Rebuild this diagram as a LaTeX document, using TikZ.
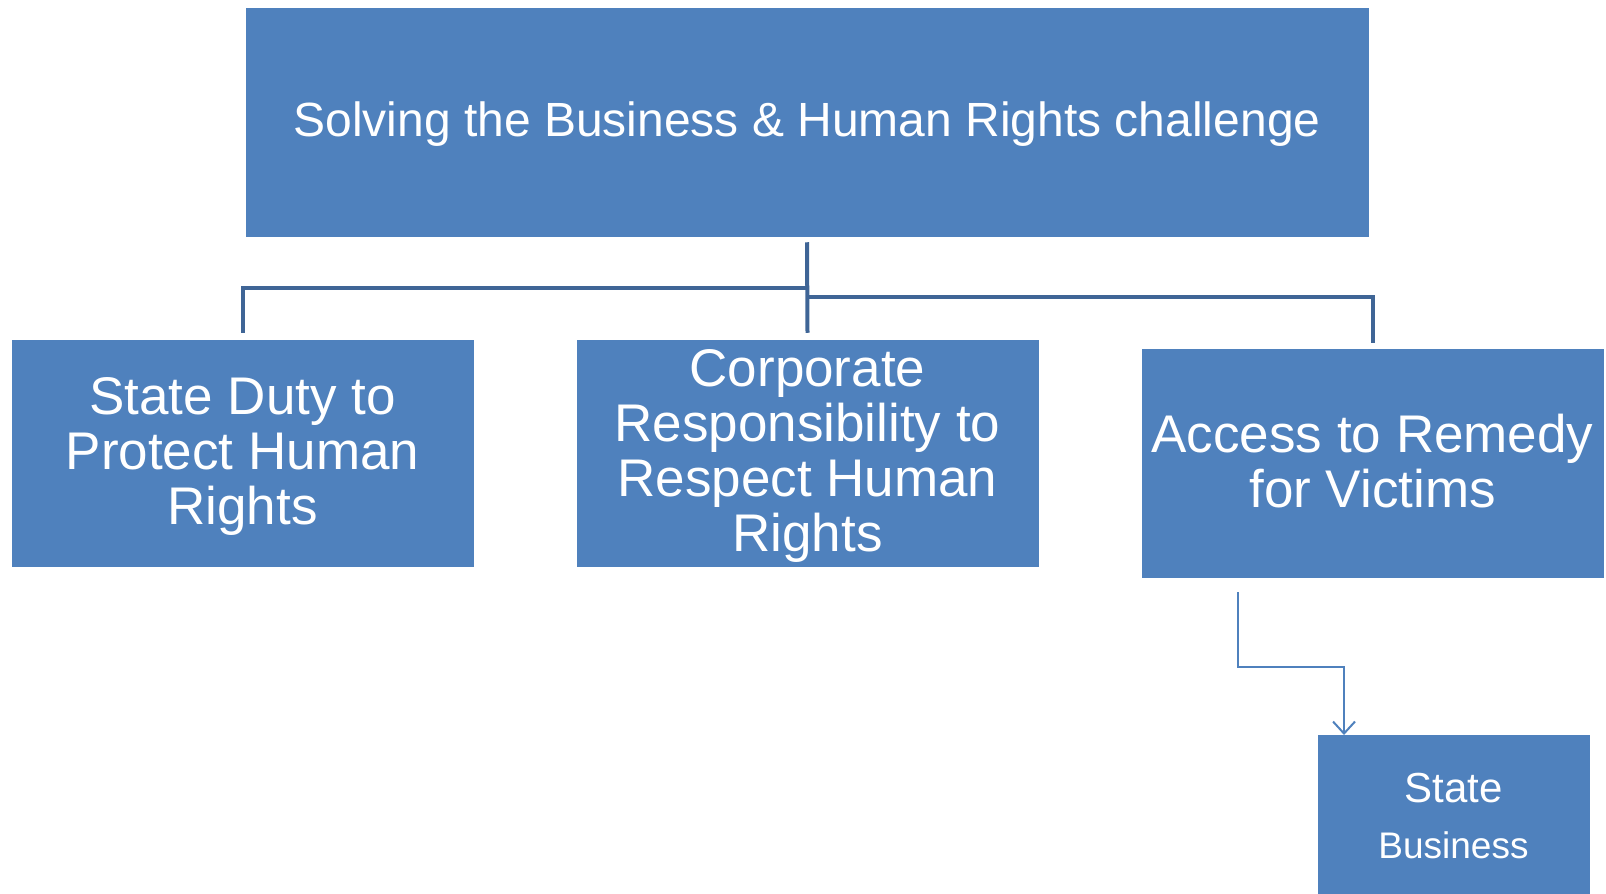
\documentclass[tikz,border=0pt]{standalone}
\usepackage{fontspec}
\setmainfont{Liberation Sans}
\usetikzlibrary{arrows.meta}
\definecolor{boxblue}{HTML}{4F81BD}
\definecolor{linkblue}{HTML}{3F6596}
\begin{document}
\begin{tikzpicture}[x=1pt,y=-1pt,
  blockbox/.style={rectangle, fill=boxblue, draw=boxblue, line width=0.5pt, inner sep=0pt},
  blocktext/.style={text=white, align=center, inner sep=0pt},
  pillartext/.style={blocktext, font=\fontsize{53}{55}\selectfont},
  trunk/.style={draw=linkblue, line width=4pt},
  feed/.style={draw=boxblue, line width=2pt,
    -{Straight Barb[length=12pt,width=22pt,line width=2pt]}},
  labeltext/.style={text=white, inner sep=0pt, anchor=base}]
\clip (0,0) rectangle (1606,894);

% headline box
\node[blockbox, minimum width=1122pt, minimum height=228pt] (top) at (807,122) {};
\node[blocktext, font=\fontsize{48}{55}\selectfont] (toptext) at (807,124)
  {Solving the Business \& Human Rights challenge};

% the three pillars
\node[blockbox, minimum width=461pt, minimum height=226pt] (sd) at (242.5,453) {};
\node[pillartext] (sdtext) at (242.5,456) {State Duty to\\Protect Human\\Rights};
\node[blockbox, minimum width=461pt, minimum height=226pt] (cr) at (807.5,453) {};
\node[pillartext] (crtext) at (807.5,456) {Corporate\\Responsibility to\\Respect Human\\Rights};
\node[blockbox, minimum width=461pt, minimum height=228pt] (ar) at (1372.5,463) {};
\node[pillartext] (artext) at (1372.5,461) {Access to Remedy\\for Victims};

% remedy providers box, running off the lower edge
\node[blockbox, minimum width=271pt, minimum height=200pt, anchor=north] (sb) at (1453.5,735) {};
\node[labeltext, font=\fontsize{42}{50}\selectfont] (sbstate) at (1453.5,802) {State};
\node[labeltext, font=\fontsize{37}{45}\selectfont] (sbbiz) at (1453.5,858) {Business};

% branching connectors
\coordinate (jl) at (807,288);
\coordinate (jr) at (807,297);
\draw[trunk] ([yshift=-6pt]top.south) -- ([yshift=7pt]cr.north);
\draw[trunk] (jl) -| ([yshift=7pt]sd.north);
\draw[trunk] (jr) -| ([yshift=6pt]ar.north);

% remedy arrow
\draw[feed] ([xshift=-134.5pt,yshift=-15pt]ar.south) -- ++(0,75) -| ([xshift=-109.5pt]sb.north);
\end{tikzpicture}
\end{document}
